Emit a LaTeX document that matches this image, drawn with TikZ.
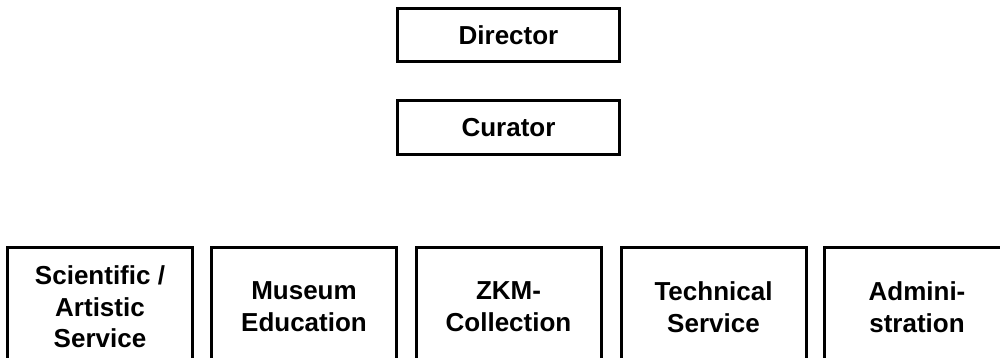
\documentclass[tikz,border=0pt]{standalone}
\usepackage{fontspec}
\setmainfont{Liberation Sans}
\begin{document}
\begin{tikzpicture}[x=0.5pt,y=-0.5pt,
  topbox/.style={draw,line width=1.5pt,minimum width=111pt,minimum height=26.5pt,inner sep=0pt,
    font=\fontsize{13}{15.85}\selectfont\bfseries},
  unitbox/.style={draw,line width=1.5pt,minimum width=92.5pt,minimum height=60pt,inner sep=0pt,
    align=center,font=\fontsize{13}{15.85}\selectfont\bfseries}]
\useasboundingbox (0,0) rectangle (1000,358);
\clip (0,0) rectangle (1000,358);
\node[topbox] (dir) at (508.5,35.5) {Director};
\node[topbox] (cur) at (508.5,127.5) {Curator};
\node[unitbox] (sci) at (100,307) {Scientific /\\Artistic\\Service};
\node[unitbox] (edu) at (304,307) {Museum\\Education};
\node[unitbox] (zkm) at (508.5,307) {ZKM-\\Collection};
\node[unitbox] (tec) at (713.5,307) {Technical\\Service};
\node[unitbox] (adm) at (917,307) {Admini-\\stration};
\end{tikzpicture}
\end{document}
